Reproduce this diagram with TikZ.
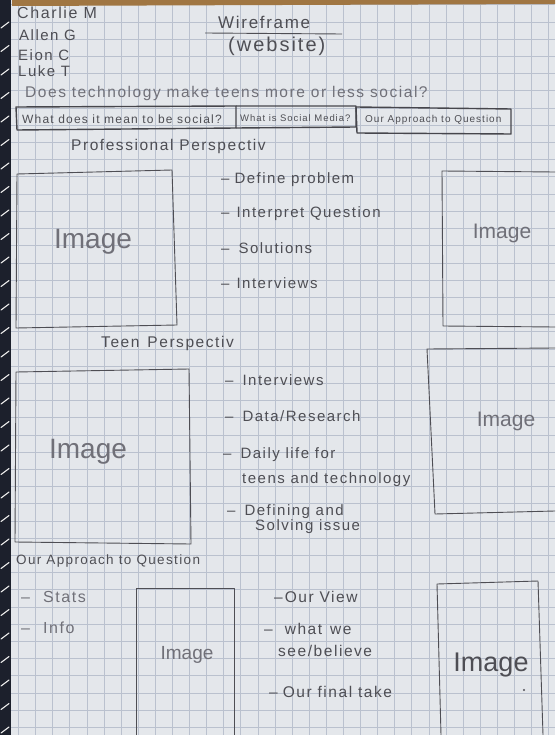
\documentclass[tikz,border=0pt]{standalone}
\usepackage{fontspec}
\setmainfont{Liberation Sans}
\newfontfamily\hand{Liberation Sans}[LetterSpace=10]
\definecolor{paper}{RGB}{228,231,235}
\definecolor{gridc}{RGB}{186,193,206}
\definecolor{pencil}{RGB}{78,78,84}
\definecolor{softpencil}{RGB}{112,112,120}
\definecolor{binder}{RGB}{28,32,44}
\definecolor{wood}{RGB}{160,118,66}
\newcommand{\fs}[1]{\hand\fontsize{#1}{#1}\selectfont}
\tikzset{
  txt/.style={anchor=west, inner sep=0pt, text=pencil},
  soft/.style={txt, text=softpencil},
  imglabel/.style={inner sep=0pt, text=softpencil, font=\fontsize{28}{28}\selectfont},
  frame/.style={draw=pencil, line width=0.9pt, line join=round},
  tabframe/.style={draw=pencil!90!black, line width=1.4pt, line join=round},
  gridln/.style={draw=gridc, line width=0.6pt}
}
\begin{document}
\begin{tikzpicture}[x=1pt,y=-1pt]
\useasboundingbox (0,0) rectangle (555,735);
% sheet of graph paper
\fill[paper] (0,0) rectangle (555,735);
\foreach \i in {0,...,32} \draw[gridln] ({1.3+17.1*\i},0) -- ++(0,735);
\foreach \j in {0,...,42} \draw[gridln] (0,{4.8+17.2*\j}) -- ++(555,0);
% spiral binding on the left and desk along the top
\fill[binder] (0,0) rectangle (11,735);
\foreach \k in {0,...,30}
  \draw[white!85!gray, line width=1.1pt, line cap=round] (1,{28+23.5*\k}) -- (9,{22+23.5*\k});
\fill[wood] (12,0) -- (555,0) -- (555,4) -- (12,6) -- cycle;

% team names
\node[txt, font=\fs{16}] (n1) at (17,13) {Charlie M};
\node[txt, font=\fs{15}] (n2) at (19,35) {Allen G};
\node[txt, font=\fs{15}] (n3) at (18,55) {Eion C};
\node[txt, font=\fs{15}] (n4) at (18,71) {Luke T};

% title
\node[txt, font=\fs{17}] (title) at (218,22) {Wireframe};
\coordinate (ulA) at (205,33);
\coordinate (ulB) at (342,34);
\draw[pencil, line width=0.9pt] (ulA) -- (ulB);
\node[txt, font=\fs{20}] (sub) at (228,46) {(website)};

% guiding question
\node[txt, font=\fs{15.5}, text=softpencil] (q) at (25,93) {Does technology make teens more or less social?};

% navigation tabs
\draw[tabframe] (16,107) -- (236,106) -- (236,128) -- (17,130) -- cycle;
\draw[tabframe] (236,106) -- (356,106) -- (356,127) -- (236,128);
\draw[tabframe] (356,107) -- (511,109) -- (511,134) -- (357,133) -- cycle;
\node[txt, font=\fs{12}] (t1) at (22,119) {What does it mean to be social?};
\node[txt, font=\fs{9.5}] (t2) at (240,118) {What is Social Media?};
\node[txt, font=\fs{10}] (t3) at (365,120) {Our Approach to Question};

% professional perspective section
\node[txt, font=\fs{15.5}] (pp) at (71,146) {Professional Perspectiv};
\draw[frame] (17,174) -- (172,170) -- (177,325) -- (16,328) -- cycle;
\node[imglabel] (img1) at (93,242) {Image};
\draw[frame] (555,172) -- (442,171) -- (443,326) -- (555,327);
\node[imglabel, font=\fontsize{21}{21}\selectfont] (img2) at (502,233) {Image};
\node[txt, font=\fs{15}] (p1) at (221,180) {–\hspace{5pt}Define problem};
\node[txt, font=\fs{15}] (p2) at (221,214) {–\hspace{7pt}Interpret Question};
\node[txt, font=\fs{15}] (p3) at (221,248) {–\hspace{9pt}Solutions};
\node[txt, font=\fs{15}] (p4) at (221,283) {–\hspace{7pt}Interviews};

% teen perspective section
\node[txt, font=\fs{15.5}] (tp) at (101,343) {Teen\hspace{8pt}Perspectiv};
\draw[frame] (16,372) -- (189,369) -- (191,544) -- (15,542) -- cycle;
\node[imglabel] (img3) at (88,452) {Image};
\draw[frame] (555,348) -- (427,349) -- (435,514) -- (555,511);
\node[imglabel, font=\fontsize{21}{21}\selectfont] (img4) at (506,421) {Image};
\node[txt, font=\fs{15}] (s1) at (225,380) {–\hspace{9pt}Interviews};
\node[txt, font=\fs{15}] (s2) at (225,416) {–\hspace{9pt}Data/Research};
\node[txt, font=\fs{15}] (s3) at (223,455) {–\hspace{9pt}Daily life for};
\node[txt, font=\fs{15}] (s3b) at (242,480) {teens and technology};
\node[txt, font=\fs{15}] (s4) at (227,512) {–\hspace{9pt}Defining and};
\node[txt, font=\fs{15}] (s4b) at (255,527) {Solving issue};

% our approach section
\node[txt, font=\fs{13.5}] (oa) at (16,561) {Our Approach to Question};
\node[soft, font=\fs{16}] (o1) at (21,597) {–\hspace{13pt}Stats};
\node[soft, font=\fs{16}] (o2) at (21,628) {–\hspace{13pt}Info};
\draw[frame] (136,735) -- (136,588) -- (234,588) -- (234,735);
\node[imglabel, font=\fontsize{19}{19}\selectfont] (img5) at (187,655) {Image};
\node[txt, font=\fs{15.5}] (v1) at (274,597) {–\hspace{2pt}Our View};
\node[txt, font=\fs{15.5}] (v2) at (264,629) {–\hspace{12pt}what\hspace{8pt}we};
\node[txt, font=\fs{15.5}] (v2b) at (278,651) {see/believe};
\node[txt, font=\fs{15.5}] (v3) at (269,692) {–\hspace{5pt}Our final take};
\draw[frame] (441,735) -- (437,584) -- (538,581) -- (543,735);
\node[imglabel, text=pencil, font=\fontsize{27}{27}\selectfont] (img6) at (491,665) {Image};
\coordinate (dot) at (524,690);
\fill[pencil] (dot) circle (1.1pt);
\end{tikzpicture}
\end{document}
